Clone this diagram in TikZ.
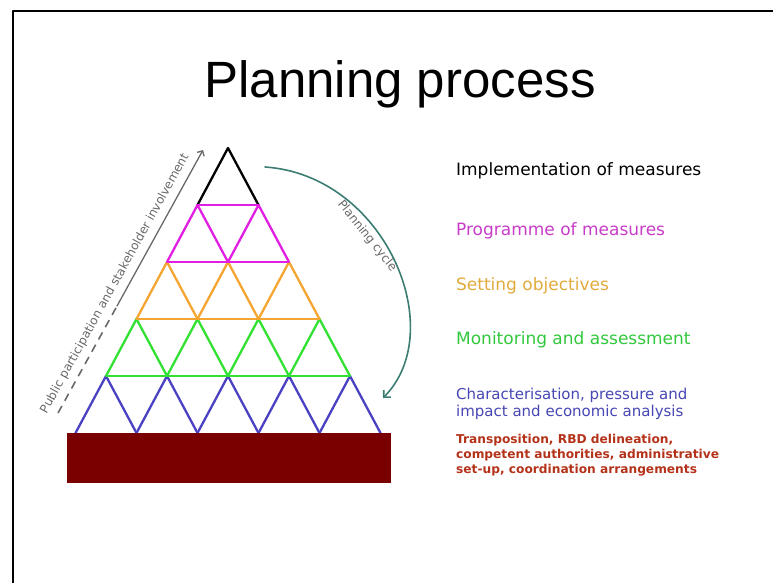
\documentclass[tikz,border=0pt]{standalone}
\usepackage{fontspec}
\setmainfont{DejaVu Sans}
\newfontfamily\titlefont{Liberation Sans}
\usetikzlibrary{arrows.meta, positioning}
\definecolor{pmagenta}{RGB}{225,30,225}
\definecolor{porange}{RGB}{245,165,50}
\definecolor{pgreen}{RGB}{50,225,50}
\definecolor{pblue}{RGB}{75,65,195}
\definecolor{pbase}{RGB}{122,0,0}
\definecolor{tmagenta}{RGB}{200,60,200}
\definecolor{torange}{RGB}{225,170,60}
\definecolor{tgreen}{RGB}{50,200,60}
\definecolor{tblue}{RGB}{70,70,180}
\definecolor{tbase}{RGB}{180,50,25}
\definecolor{pcycle}{RGB}{60,125,115}
\definecolor{pnote}{RGB}{105,105,105}
\tikzstyle{planning}=[x=1pt, y=-1pt, line width=2.3pt, line cap=round, line join=round]
\tikzstyle{level}=[inner sep=0pt, align=left, font=\fontsize{17}{20}\selectfont]
\tikzstyle{note}=[inner sep=0pt, text=pnote, font=\fontsize{12}{14}\selectfont]

\begin{document}
\begin{tikzpicture}[planning]
            \useasboundingbox (0,0) rectangle (773,582);
            \draw[line width=2pt, line cap=rect] (773,11) -- (13,11) -- (13,582);

            \node[font=\titlefont\fontsize{51}{60}\selectfont, anchor=base] (title) at (400,97) {Planning process};

            \foreach \k/\c in {0/black,1/pmagenta,2/porange,3/pgreen,4/pblue}
              \foreach \j in {0,...,\k}
                \draw[\c] (228-30.5*\k+61*\j-30.5, 205+57*\k) -- (228-30.5*\k+61*\j, 148+57*\k)
                  -- (228-30.5*\k+61*\j+30.5, 205+57*\k);
            \draw[pmagenta] (197.5,205) -- (258.5,205);
            \draw[pmagenta] (167,262) -- (289,262);
            \draw[porange] (136.5,319) -- (319.5,319);
            \draw[pgreen] (106,376) -- (350,376);
            \fill[pbase] (67,433) rectangle (391,483);

            \coordinate (pstart) at (58,413);
            \coordinate (pmid) at (117,306);
            \coordinate (pend) at (203,150);
            \draw[pnote, line width=1.6pt, line cap=butt, dash pattern=on 8pt off 6pt] (pstart) -- (pmid);
            \draw[pnote, line width=1.3pt, -{Straight Barb[length=4pt]}] (pmid) -- (pend);
            \node[note, rotate=61.1, anchor=south] (ppart) at (121,287) {Public participation and stakeholder involvement};

            \coordinate (cstart) at (265,167);
            \coordinate (cend) at (383,398);
            \draw[pcycle, line width=1.6pt, -{Straight Barb[length=5pt]}]
              (cstart) .. controls (385,175) and (450,330) .. (cend);
            \node[note, rotate=-51.3] (cyc) at (367,236) {Planning cycle};

            \node[level, anchor=base west]             (impl) at (455,175) {Implementation of measures};
            \node[level, anchor=base west, text=tmagenta] (prog) at (455,235) {Programme of measures};
            \node[level, anchor=base west, text=torange]  (obj)  at (455,290) {Setting objectives};
            \node[level, anchor=base west, text=tgreen]   (mon)  at (455,344) {Monitoring and assessment};
            \node[level, anchor=north west, text=tblue, font=\fontsize{15}{17}\selectfont] (char) at (455,387)
              {Characterisation, pressure and\\impact and economic analysis};
            \node[level, anchor=north west, text=tbase, font=\bfseries\fontsize{12.2}{15}\selectfont] (trans) at (455,433)
              {Transposition, RBD delineation,\\competent authorities, administrative\\set-up, coordination arrangements};
          \end{tikzpicture}
\end{document}
